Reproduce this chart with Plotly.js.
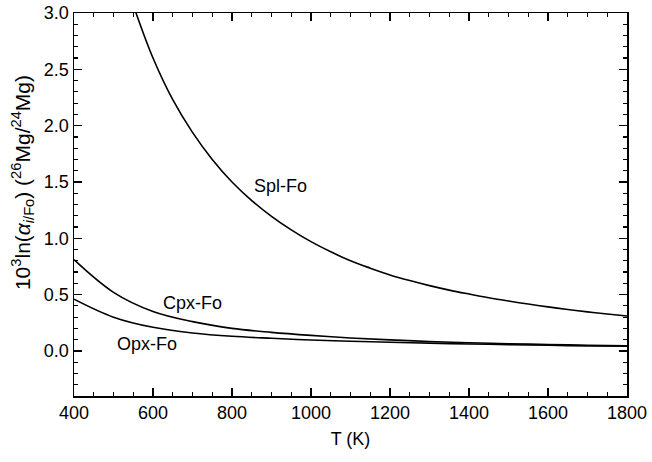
<!DOCTYPE html>
<html>
<head>
<meta charset="utf-8">
<script src="https://cdn.plot.ly/plotly-3.0.1.min.js"></script>
<style>html,body{margin:0;padding:0;background:#fff;}#chart{width:652px;height:462px;}</style>
</head>
<body>
<div id="chart"></div>
<script>
// Temperatures (K) and fractionation values
const splT = [557, 600, 650, 700, 750, 800, 850, 900, 950, 1000, 1050, 1100, 1150, 1200, 1250, 1300, 1350, 1400, 1450, 1500, 1550, 1600, 1650, 1700, 1750, 1800];
const splV = [3.00, 2.60, 2.23, 1.94, 1.70, 1.50, 1.335, 1.195, 1.075, 0.97, 0.88, 0.80, 0.735, 0.675, 0.625, 0.58, 0.54, 0.505, 0.472, 0.443, 0.416, 0.391, 0.368, 0.347, 0.328, 0.31];

const cpxT = [400, 500, 600, 700, 800, 900, 1000, 1100, 1200, 1300, 1400, 1500, 1600, 1700, 1800];
const cpxV = [0.81, 0.52, 0.35, 0.26, 0.20, 0.165, 0.138, 0.115, 0.098, 0.084, 0.073, 0.064, 0.057, 0.051, 0.046];

const opxT = [400, 500, 600, 700, 800, 900, 1000, 1100, 1200, 1300, 1400, 1500, 1600, 1700, 1800];
const opxV = [0.46, 0.30, 0.21, 0.16, 0.13, 0.112, 0.097, 0.086, 0.077, 0.069, 0.062, 0.056, 0.050, 0.045, 0.041];

const labelText = ["Spl-Fo", "Cpx-Fo", "Opx-Fo"];
const labelT = [922, 701, 585];
const labelV = [1.46, 0.43, 0.06];

const yTitle = '10<sup>3</sup>ln(<i>α</i><sub><i>i</i>/Fo</sub>) (<sup>26</sup>Mg/<sup>24</sup>Mg)';
const xTitle = 'T (K)';

const lineStyle = {color: '#000', width: 1.6, shape: 'spline', smoothing: 1.0};
const traces = [
  {x: splT, y: splV, mode: 'lines', line: lineStyle, showlegend: false, hoverinfo: 'skip'},
  {x: cpxT, y: cpxV, mode: 'lines', line: lineStyle, showlegend: false, hoverinfo: 'skip'},
  {x: opxT, y: opxV, mode: 'lines', line: lineStyle, showlegend: false, hoverinfo: 'skip'}
];

const fam = 'Liberation Sans, Arial, Helvetica, sans-serif';
const font = {family: fam, color: '#000', size: 18};

const annotations = labelText.map((t, i) => ({
  x: labelT[i], y: labelV[i], xref: 'x', yref: 'y', text: t, showarrow: false,
  font: {family: fam, size: 18, color: '#000'}
}));
annotations.push({
  xref: 'paper', yref: 'paper', x: -0.094, y: 0.556, xanchor: 'center', yanchor: 'middle',
  textangle: -90, text: yTitle, showarrow: false,
  font: {family: fam, size: 21, color: '#000'}
});

const axisCommon = {
  showline: true, linecolor: '#000', linewidth: 1.5, mirror: 'ticks',
  ticks: 'inside', ticklen: 8, tickwidth: 1.3, tickcolor: '#000',
  showgrid: false, zeroline: false, tickfont: font
};

const layout = {
  width: 652, height: 462,
  margin: {l: 74, r: 25, t: 13, b: 66},
  paper_bgcolor: '#fff', plot_bgcolor: '#fff',
  font: font,
  xaxis: Object.assign({}, axisCommon, {
    range: [400, 1800], tick0: 400, dtick: 200,
    minor: {dtick: 50, ticks: 'inside', ticklen: 4, tickwidth: 1.2, tickcolor: '#000', showgrid: false},
    title: {text: xTitle, font: {family: fam, size: 18, color: '#000'}, standoff: 10}
  }),
  yaxis: Object.assign({}, axisCommon, {
    range: [-0.4, 3.0], tick0: 0, dtick: 0.5, tickformat: '.1f',
    minor: {dtick: 0.1, ticks: 'inside', ticklen: 4, tickwidth: 1.2, tickcolor: '#000', showgrid: false}
  }),
  annotations: annotations
};

Plotly.newPlot('chart', traces, layout, {displayModeBar: false, staticPlot: true});
</script>
</body>
</html>
